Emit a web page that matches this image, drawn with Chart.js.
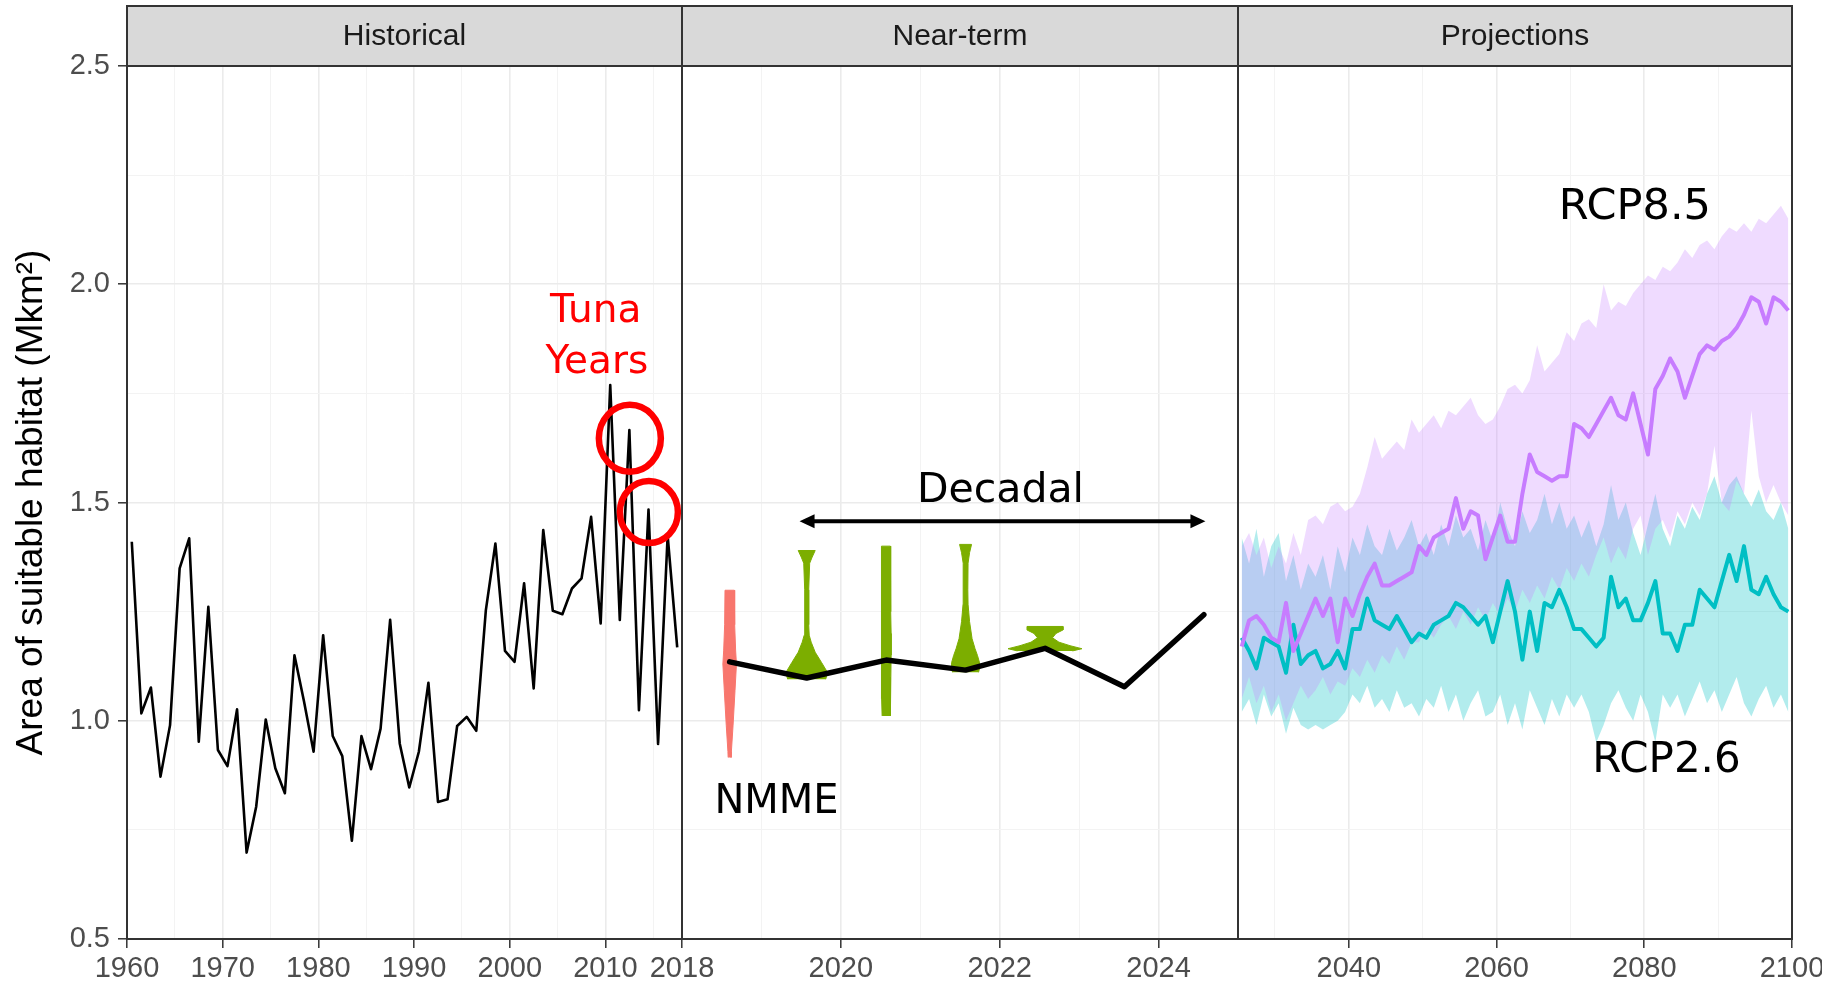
<!DOCTYPE html>
<html>
<head>
<meta charset="utf-8">
<script src="https://cdn.jsdelivr.net/npm/chart.js@4.4.1/dist/chart.umd.min.js"></script>
<style>
html,body{margin:0;padding:0;background:#fff;overflow:hidden;}
#wrap{position:relative;width:1822px;height:988px;overflow:hidden;background:#fff;}
#wrap canvas{position:absolute;left:0;top:0;}
</style>
</head>
<body>
<div id="wrap">
<canvas id="c1" width="1900" height="988"></canvas>
<canvas id="c2" width="1900" height="988"></canvas>
<canvas id="c3" width="1900" height="988"></canvas>
</div>
<script>
// ---------------- DATA ----------------
const facetLabels = ['Historical', 'Near-term', 'Projections'];
const yTitle = 'Area of suitable habitat (Mkm\u00B2)';

const yMajorTicks = [0.5, 1.0, 1.5, 2.0, 2.5];
const yMinorTicks = [0.75, 1.25, 1.75, 2.25];
const yTickLabels = ['0.5', '1.0', '1.5', '2.0', '2.5'];

const histMajorTicks = [1960, 1970, 1980, 1990, 2000, 2010, 2018];
const histMinorTicks = [1965, 1975, 1985, 1995, 2005, 2015];
const histTickLabels = ['1960', '1970', '1980', '1990', '2000', '2010', '2018'];

const nearMajorTicks = [2020, 2022, 2024];
const nearMinorTicks = [2019, 2021, 2023];
const nearTickLabels = ['2020', '2022', '2024'];

const projMajorTicks = [2040, 2060, 2080, 2100];
const projMinorTicks = [2030, 2050, 2070, 2090];
const projTickLabels = ['2040', '2060', '2080', '2100'];

// Historical annual values, 1960..2017
const histStartYear = 1960;
const histValues = [
  1.41, 1.017, 1.076, 0.872, 0.99, 1.349, 1.418, 0.952, 1.261, 0.933,
  0.896, 1.026, 0.698, 0.803, 1.003, 0.891, 0.834, 1.150, 1.044, 0.929,
  1.196, 0.965, 0.919, 0.725, 0.965, 0.889, 0.982, 1.231, 0.948, 0.847,
  0.929, 1.087, 0.814, 0.820, 0.988, 1.009, 0.977, 1.253, 1.406, 1.160,
  1.135, 1.315, 1.074, 1.437, 1.252, 1.244, 1.303, 1.326, 1.467, 1.223,
  1.769, 1.231, 1.666, 1.024, 1.484, 0.947, 1.424, 1.168
];

// Near-term (decadal) mean line
const nearTimes = [2018.6, 2019.57, 2020.57, 2021.57, 2022.57, 2023.57, 2024.57];
const nearValues = [1.135, 1.098, 1.139, 1.116, 1.166, 1.078, 1.243];

// Violins: centre time, value levels, widths (years)
const violinNames = ['NMME', 'Decadal 2020', 'Decadal 2021', 'Decadal 2022', 'Decadal 2023'];
const violinCenters = [2018.6, 2019.57, 2020.57, 2021.57, 2022.57];
const violinLevels = [
  [0.916, 0.93, 0.99, 1.07, 1.13, 1.16, 1.22, 1.299],
  [1.095, 1.11, 1.133, 1.157, 1.18, 1.196, 1.22, 1.30, 1.361, 1.375, 1.39],
  [1.011, 1.05, 1.10, 1.15, 1.20, 1.25, 1.30, 1.35, 1.40],
  [1.111, 1.12, 1.133, 1.149, 1.165, 1.188, 1.227, 1.267, 1.30, 1.361, 1.385, 1.404],
  [1.160, 1.165, 1.172, 1.18, 1.19, 1.20, 1.208, 1.216]
];
const violinWidths = [
  [0.038, 0.044, 0.086, 0.135, 0.171, 0.151, 0.126, 0.117],
  [0.478, 0.528, 0.377, 0.214, 0.113, 0.063, 0.050, 0.050, 0.075, 0.138, 0.214],
  [0.101, 0.113, 0.119, 0.126, 0.126, 0.119, 0.113, 0.113, 0.107],
  [0.327, 0.352, 0.352, 0.302, 0.239, 0.164, 0.101, 0.063, 0.057, 0.063, 0.101, 0.151],
  [0.692, 0.931, 0.629, 0.352, 0.189, 0.277, 0.453, 0.453]
];

// Projections, annual 2025..2099
const projStartYear = 2025;
const rcp85Mean = [
  1.17, 1.23, 1.24, 1.22, 1.19, 1.18, 1.27, 1.16, 1.20, 1.24,
  1.28, 1.24, 1.28, 1.18, 1.28, 1.24, 1.29, 1.33, 1.36, 1.31,
  1.31, 1.32, 1.33, 1.34, 1.40, 1.38, 1.42, 1.43, 1.44, 1.51,
  1.44, 1.48, 1.47, 1.37, 1.42, 1.47, 1.41, 1.41, 1.52, 1.61,
  1.57, 1.56, 1.55, 1.56, 1.56, 1.68, 1.67, 1.65, 1.68, 1.71,
  1.74, 1.70, 1.69, 1.75, 1.68, 1.61, 1.76, 1.79, 1.83, 1.80,
  1.74, 1.79, 1.84, 1.86, 1.85, 1.87, 1.88, 1.90, 1.93, 1.97,
  1.96, 1.91, 1.97, 1.96, 1.94
];
const rcp85Low = [
  1.05, 1.10, 1.04, 1.08, 1.02, 1.06, 1.00, 1.04, 1.08, 1.05,
  1.07, 1.10, 1.06, 1.09, 1.08, 1.12, 1.10, 1.14, 1.11, 1.15,
  1.13, 1.17, 1.14, 1.18, 1.18, 1.21, 1.19, 1.22, 1.24, 1.21,
  1.25, 1.22, 1.26, 1.23, 1.27, 1.24, 1.28, 1.25, 1.30, 1.27,
  1.31, 1.28, 1.33, 1.30, 1.35, 1.32, 1.36, 1.33, 1.38, 1.42,
  1.36, 1.40, 1.37, 1.44, 1.47, 1.38, 1.44, 1.46, 1.42, 1.48,
  1.45, 1.50, 1.47, 1.52, 1.63, 1.50, 1.48, 1.55, 1.52, 1.71,
  1.56, 1.50, 1.54, 1.50, 1.47
];
const rcp85High = [
  1.40, 1.43, 1.38, 1.42, 1.35, 1.40, 1.36, 1.43, 1.38, 1.46,
  1.47, 1.45, 1.49, 1.50, 1.48, 1.49, 1.52, 1.58, 1.65, 1.60,
  1.62, 1.64, 1.62, 1.69, 1.66, 1.68, 1.70, 1.67, 1.71, 1.70,
  1.72, 1.74, 1.70, 1.68, 1.69, 1.72, 1.76, 1.77, 1.75, 1.78,
  1.86, 1.80, 1.82, 1.84, 1.89, 1.87, 1.91, 1.92, 1.90, 2.00,
  1.94, 1.96, 1.95, 1.98, 2.00, 2.02, 2.01, 2.04, 2.03, 2.05,
  2.08, 2.06, 2.09, 2.10, 2.08, 2.11, 2.13, 2.12, 2.14, 2.12,
  2.15, 2.14, 2.16, 2.18, 2.15
];
const rcp26Mean = [
  1.19, 1.16, 1.12, 1.19, 1.18, 1.17, 1.11, 1.22, 1.13, 1.15,
  1.16, 1.12, 1.13, 1.16, 1.12, 1.21, 1.21, 1.28, 1.23, 1.22,
  1.21, 1.24, 1.21, 1.18, 1.20, 1.19, 1.22, 1.23, 1.24, 1.27,
  1.26, 1.24, 1.22, 1.24, 1.18, 1.25, 1.32, 1.25, 1.14, 1.25,
  1.16, 1.27, 1.26, 1.30, 1.26, 1.21, 1.21, 1.19, 1.17, 1.19,
  1.33, 1.26, 1.28, 1.23, 1.23, 1.27, 1.32, 1.20, 1.20, 1.16,
  1.22, 1.22, 1.30, 1.28, 1.26, 1.32, 1.38, 1.32, 1.40, 1.30,
  1.29, 1.33, 1.29, 1.26, 1.25
];
const rcp26Low = [
  1.02, 1.05, 0.99, 1.06, 1.01, 1.04, 0.97, 1.03, 0.99, 0.98,
  0.99, 0.98, 0.99, 1.00, 1.02, 1.06, 1.04, 1.08, 1.03, 1.05,
  1.02, 1.07, 1.03, 1.04, 1.01, 1.05, 1.03, 1.08, 1.02, 1.06,
  1.00, 1.04, 1.07, 1.01, 1.02, 1.06, 0.99, 1.04, 0.98, 1.07,
  1.03, 0.99, 1.05, 1.01, 1.06, 1.03, 1.06, 1.02, 0.95, 0.99,
  1.04, 1.07, 1.03, 1.00, 1.06, 1.02, 0.95, 1.06, 1.03, 1.06,
  1.01, 1.05, 1.09, 1.04, 1.07, 1.02, 1.06, 1.10, 1.04, 1.01,
  1.05, 1.08, 1.03, 1.06, 1.02
];
const rcp26High = [
  1.42, 1.36, 1.44, 1.33, 1.40, 1.43, 1.32, 1.38, 1.30, 1.36,
  1.33, 1.38, 1.30, 1.40, 1.34, 1.42, 1.38, 1.45, 1.40, 1.38,
  1.44, 1.39, 1.42, 1.46, 1.40, 1.43, 1.38, 1.45, 1.40, 1.47,
  1.42, 1.44, 1.39, 1.46, 1.41, 1.50, 1.44, 1.40, 1.48, 1.43,
  1.46, 1.52, 1.45, 1.50, 1.44, 1.47, 1.42, 1.46, 1.40, 1.45,
  1.54, 1.46, 1.50, 1.43, 1.38, 1.45, 1.52, 1.44, 1.40, 1.47,
  1.44, 1.49, 1.46, 1.52, 1.56, 1.50, 1.54, 1.56, 1.52, 1.49,
  1.53, 1.48, 1.46, 1.50, 1.44
];

// ---------------- LAYOUT / STYLE ----------------
const CANVAS_W = 1900, CANVAS_H = 988;
const STRIP_TOP = 6, PANEL_TOP = 66, PANEL_BOTTOM = 939;
const PANEL_EDGES = [127, 682, 1238, 1792];
const MID_YEAR = 0.5;
const SANS = "'Liberation Sans', Arial, Helvetica, sans-serif";
const NOTE_FONT = "'DejaVu Sans', Verdana, sans-serif";
const TICK_FONT = {family: SANS, size: 29};
const GRID_MAJOR = '#ebebeb', GRID_MINOR = '#f3f3f3';
const COL_NMME = '#F8766D', COL_DEC = '#7CAE00', COL_26 = '#00BFC4', COL_85 = '#C77CFF';

Chart.defaults.font.family = SANS;

function tickSet(major, minor) {
  return major.concat(minor).sort((a, b) => a - b).map(v => ({value: v}));
}
function gridFor(major, drawTicks) {
  const isMaj = c => c.tick && major.includes(c.tick.value);
  return {
    color: c => isMaj(c) ? GRID_MAJOR : GRID_MINOR,
    lineWidth: c => isMaj(c) ? 1.6 : 1,
    drawTicks: drawTicks,
    tickLength: 9,
    tickWidth: 1.5,
    tickColor: c => isMaj(c) ? '#333333' : 'rgba(0,0,0,0)'
  };
}
function xAxis(min, max, major, minor, labels) {
  return {
    type: 'linear', min: min, max: max,
    afterBuildTicks: s => { s.ticks = tickSet(major, minor); },
    afterFit: s => { s.height = CANVAS_H - PANEL_BOTTOM; },
    border: {display: false},
    grid: gridFor(major, true),
    ticks: {
      autoSkip: false, maxRotation: 0, minRotation: 0, padding: 4,
      color: '#4d4d4d', font: TICK_FONT,
      callback: v => { const i = major.indexOf(v); return i >= 0 ? labels[i] : ''; }
    }
  };
}
function yAxis(first) {
  return {
    type: 'linear', min: 0.5, max: 2.5,
    afterBuildTicks: s => { s.ticks = tickSet(yMajorTicks, yMinorTicks); },
    afterFit: s => { s.width = first ? PANEL_EDGES[0] : 0; },
    border: {display: false},
    grid: gridFor(yMajorTicks, first),
    ticks: {
      display: first, padding: 8, color: '#4d4d4d', font: TICK_FONT,
      callback: v => { const i = yMajorTicks.indexOf(v); return i >= 0 ? yTickLabels[i] : ''; }
    },
    title: {
      display: first, text: yTitle, color: '#000000',
      font: {family: SANS, size: 37}, padding: {top: 10, bottom: 0}
    }
  };
}

const facetPlugin = {
  id: 'facet',
  afterDatasetsDraw(chart, args, opts) {
    const {ctx, chartArea: a} = chart;
    ctx.save();
    ctx.strokeStyle = '#333333';
    ctx.lineWidth = 2;
    ctx.strokeRect(a.left, a.top, a.right - a.left, a.bottom - a.top);
    ctx.fillStyle = '#d9d9d9';
    ctx.fillRect(a.left, STRIP_TOP, a.right - a.left, a.top - STRIP_TOP);
    ctx.strokeRect(a.left, STRIP_TOP, a.right - a.left, a.top - STRIP_TOP);
    ctx.fillStyle = '#1a1a1a';
    ctx.font = '30px ' + SANS;
    ctx.textAlign = 'center';
    ctx.textBaseline = 'middle';
    ctx.fillText(opts.label, (a.left + a.right) / 2, (STRIP_TOP + a.top) / 2 + 1);
    ctx.restore();
  }
};

const notesPlugin = {
  id: 'notes',
  afterDraw(chart, args, opts) {
    const {ctx} = chart;
    const xs = chart.scales.x, ys = chart.scales.y;
    ctx.save();
    (opts.rings || []).forEach(r => {
      ctx.beginPath();
      ctx.ellipse(xs.getPixelForValue(r.x), ys.getPixelForValue(r.y), r.rx, r.ry, 0, 0, Math.PI * 2);
      ctx.strokeStyle = r.color; ctx.lineWidth = r.width; ctx.stroke();
    });
    (opts.arrows || []).forEach(ar => {
      const x1 = xs.getPixelForValue(ar.x1), x2 = xs.getPixelForValue(ar.x2), y = ys.getPixelForValue(ar.y);
      const hl = 15, hw = 7;
      ctx.strokeStyle = ar.color; ctx.fillStyle = ar.color; ctx.lineWidth = ar.width;
      ctx.beginPath(); ctx.moveTo(x1 + hl - 2, y); ctx.lineTo(x2 - hl + 2, y); ctx.stroke();
      ctx.beginPath(); ctx.moveTo(x1, y); ctx.lineTo(x1 + hl, y - hw); ctx.lineTo(x1 + hl, y + hw); ctx.closePath(); ctx.fill();
      ctx.beginPath(); ctx.moveTo(x2, y); ctx.lineTo(x2 - hl, y - hw); ctx.lineTo(x2 - hl, y + hw); ctx.closePath(); ctx.fill();
    });
    (opts.texts || []).forEach(t => {
      ctx.font = t.size + 'px ' + NOTE_FONT;
      ctx.fillStyle = t.color;
      ctx.textAlign = 'center';
      ctx.textBaseline = 'alphabetic';
      ctx.fillText(t.text, xs.getPixelForValue(t.x), ys.getPixelForValue(t.y));
    });
    ctx.restore();
  }
};

function baseOptions(i, xScale, notes) {
  return {
    responsive: false, animation: false, devicePixelRatio: 1, events: [],
    layout: {
      autoPadding: false,
      padding: {left: i === 0 ? 0 : PANEL_EDGES[i], right: CANVAS_W - PANEL_EDGES[i + 1], top: PANEL_TOP, bottom: 0}
    },
    elements: {point: {radius: 0}, line: {tension: 0}},
    scales: {x: xScale, y: yAxis(i === 0)},
    plugins: {
      legend: {display: false}, tooltip: {enabled: false},
      facet: {label: facetLabels[i]},
      notes: notes
    }
  };
}

// ---------------- CHART 1: Historical ----------------
const histPoints = histValues.map((v, i) => ({x: histStartYear + i + MID_YEAR, y: v}));
new Chart(document.getElementById('c1'), {
  type: 'line',
  data: {datasets: [{
    label: 'Historical', data: histPoints, borderColor: '#000000', borderWidth: 2.6,
    pointRadius: 0, fill: false, borderJoinStyle: 'round'
  }]},
  options: baseOptions(0, xAxis(1960, 2018, histMajorTicks, histMinorTicks, histTickLabels), {
    texts: [
      {text: 'Tuna', x: 2008.98, y: 1.914, size: 39, color: '#ff0000'},
      {text: 'Years', x: 2009.1, y: 1.797, size: 39, color: '#ff0000'}
    ],
    rings: [
      {x: 2012.55, y: 1.647, rx: 31, ry: 33.5, width: 6.5, color: '#ff0000'},
      {x: 2014.54, y: 1.478, rx: 29, ry: 31, width: 6.5, color: '#ff0000'}
    ]
  }),
  plugins: [facetPlugin, notesPlugin]
});

// ---------------- CHART 2: Near-term ----------------
function violinPolygon(center, levels, widths) {
  const left = levels.map((v, i) => ({x: center - widths[i] / 2, y: v}));
  const right = levels.map((v, i) => ({x: center + widths[i] / 2, y: v})).reverse();
  return left.concat(right);
}
const violinSets = violinNames.map((name, k) => {
  const col = k === 0 ? COL_NMME : COL_DEC;
  return {
    label: name, data: violinPolygon(violinCenters[k], violinLevels[k], violinWidths[k]),
    fill: 'shape', backgroundColor: col, borderColor: col, borderWidth: 1,
    pointRadius: 0, order: 1
  };
});
new Chart(document.getElementById('c2'), {
  type: 'line',
  data: {datasets: [{
    label: 'Decadal mean', data: nearTimes.map((t, i) => ({x: t, y: nearValues[i]})),
    borderColor: '#000000', borderWidth: 5.5, pointRadius: 0, fill: false,
    borderJoinStyle: 'round', borderCapStyle: 'round', order: 0
  }].concat(violinSets)},
  options: baseOptions(1, xAxis(2018, 2025, nearMajorTicks, nearMinorTicks, nearTickLabels), {
    texts: [
      {text: 'Decadal', x: 2022.01, y: 1.501, size: 41, color: '#000000'},
      {text: 'NMME', x: 2019.19, y: 0.789, size: 40, color: '#000000'}
    ],
    arrows: [{x1: 2019.48, x2: 2024.59, y: 1.457, width: 4, color: '#000000'}]
  }),
  plugins: [facetPlugin, notesPlugin]
});

// ---------------- CHART 3: Projections ----------------
const projX = rcp85Mean.map((_, i) => projStartYear + i + MID_YEAR);
const pts = arr => arr.map((v, i) => ({x: projX[i], y: v}));
new Chart(document.getElementById('c3'), {
  type: 'line',
  data: {datasets: [
    {label: 'RCP2.6 low', data: pts(rcp26Low), borderWidth: 0, borderColor: 'rgba(0,0,0,0)', fill: false, order: 5},
    {label: 'RCP2.6 range', data: pts(rcp26High), borderWidth: 0, borderColor: 'rgba(0,0,0,0)',
      fill: '-1', backgroundColor: 'rgba(0,191,196,0.3)', order: 4},
    {label: 'RCP8.5 low', data: pts(rcp85Low), borderWidth: 0, borderColor: 'rgba(0,0,0,0)', fill: false, order: 3},
    {label: 'RCP8.5 range', data: pts(rcp85High), borderWidth: 0, borderColor: 'rgba(0,0,0,0)',
      fill: '-1', backgroundColor: 'rgba(199,124,255,0.28)', order: 2},
    {label: 'RCP2.6', data: pts(rcp26Mean), borderColor: COL_26, borderWidth: 4, fill: false,
      borderJoinStyle: 'round', order: 1},
    {label: 'RCP8.5', data: pts(rcp85Mean), borderColor: COL_85, borderWidth: 4, fill: false,
      borderJoinStyle: 'round', order: 0}
  ]},
  options: baseOptions(2, xAxis(2025, 2100, projMajorTicks, projMinorTicks, projTickLabels), {
    texts: [
      {text: 'RCP8.5', x: 2078.73, y: 2.149, size: 43, color: '#000000'},
      {text: 'RCP2.6', x: 2083.0, y: 0.882, size: 42, color: '#000000'}
    ]
  }),
  plugins: [facetPlugin, notesPlugin]
});
</script>
</body>
</html>
